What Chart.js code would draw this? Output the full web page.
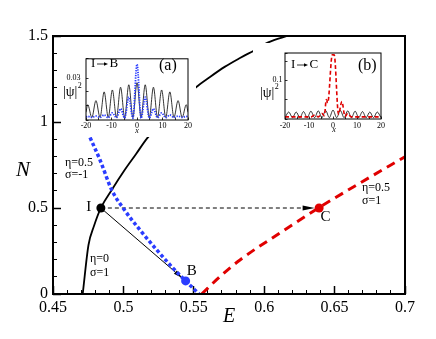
<!DOCTYPE html>
<html>
<head>
<meta charset="utf-8">
<script src="https://cdn.jsdelivr.net/npm/chart.js@4.4.1/dist/chart.umd.min.js"></script>
<style>
  body { margin: 0; background: #fff; }
  #wrap { position: relative; width: 436px; height: 339px; }
  canvas { position: absolute; }
  #mainCanvas { left: 0; top: 0; }
  #insetA { left: 62px; top: 46px; background: #fff; }
  #insetB { left: 253px; top: 43px; background: #fff; }
</style>
</head>
<body>
<div id="wrap">
  <canvas id="mainCanvas" width="436" height="339"></canvas>
  <canvas id="insetA" width="134" height="91"></canvas>
  <canvas id="insetB" width="137" height="92"></canvas>
</div>
<script>
const SERIF = "'Liberation Serif', 'Times New Roman', serif";

// branche eta=0, sigma=1 (trait noir)
const blackE = [0.4711, 0.4752, 0.4791, 0.4841, 0.4917, 0.5004, 0.5090, 0.5168, 0.5345, 0.5516, 0.5615, 0.5722, 0.5828, 0.5935, 0.6029, 0.6162, 0.6254];
const blackN = [0, 0.285, 0.395, 0.502, 0.605, 0.715, 0.814, 0.905, 1.058, 1.202, 1.262, 1.322, 1.372, 1.419, 1.463, 1.500, 1.523];

// branche eta=0.5, sigma=-1 (pointillés bleus)
const blueE = [0.4763, 0.4834, 0.4917, 0.4999, 0.5118, 0.5237, 0.5354, 0.5442, 0.5537];
const blueN = [0.910, 0.779, 0.605, 0.498, 0.372, 0.256, 0.149, 0.076, 0];

// branche eta=0.5, sigma=1 (tirets rouges)
const redE = [0.5556, 0.5686, 0.5828, 0.6112, 0.6389, 0.6680, 0.7000];
const redN = [0, 0.101, 0.198, 0.355, 0.502, 0.645, 0.798];

// points I, B, C
const pointE = [0.484, 0.5442, 0.639];
const pointN = [0.5, 0.076, 0.5];
const pointLabels = ["I", "B", "C"];

// graduations principales
const xTickValues = [0.45, 0.5, 0.55, 0.6, 0.65, 0.7];
const yTickValues = [0, 0.5, 1, 1.5];

// encart (a) : I -> B
const insetAX = [-20, -19.32, -17.71, -16.1, -14.49, -12.88, -11.27, -9.66, -8.05, -6.44, -4.83, -3.22, -1.61, 0, 1.61, 3.22, 4.83, 6.44, 8.05, 9.66, 11.27, 12.88, 14.49, 16.1, 17.71, 19.32, 20];
const insetABlack = [0.005, 0.0105, 0.0012, 0.0135, 0.0012, 0.0199, 0.0012, 0.0213, 0.0012, 0.0233, 0.0012, 0.0251, 0.0012, 0.0266, 0.0012, 0.0251, 0.0012, 0.0233, 0.0012, 0.0213, 0.0012, 0.0199, 0.0012, 0.0135, 0.0012, 0.0105, 0.005];
const insetABlue = [0.0015, 0.002, 0.0012, 0.0022, 0.0012, 0.003, 0.001, 0.0045, 0.001, 0.0075, 0.0008, 0.0161, 0.0006, 0.0401, 0.0006, 0.0161, 0.0008, 0.0075, 0.001, 0.0045, 0.001, 0.003, 0.0012, 0.0022, 0.0012, 0.002, 0.0015];
const insetAYLabels = [0, 0.03];

// encart (b) : I -> C
const insetBX = [-20, -18.42, -16.88, -15.35, -13.81, -12.28, -10.74, -9.21, -7.67, -6.14, -4.6, -3.07, -1.53, 0, 1.53, 3.07, 4.6, 6.14, 7.67, 9.21, 10.74, 12.28, 13.81, 15.35, 16.88, 18.42, 20];
const insetBBlack = [0.001, 0.016, 0.001, 0.016, 0.001, 0.017, 0.001, 0.018, 0.001, 0.019, 0.001, 0.02, 0.001, 0.021, 0.001, 0.02, 0.001, 0.019, 0.001, 0.018, 0.001, 0.017, 0.001, 0.016, 0.001, 0.016, 0.001];
const insetBRedX = [-20, -9, -7.6, -6.1, -4.6, -3.6, -2.8, -2.2, -0.3, 0.5, 2.3, 3.7, 5.0, 6.1, 7.6, 9, 20];
const insetBRed = [0.003, 0.003, 0.008, 0.003, 0.012, 0.006, 0.049, 0.04, 0.168, 0.168, 0.01, 0.044, 0.004, 0.012, 0.003, 0.003, 0.003];
const insetBYLabels = [0, 0.1];

const toXY = (xs, ys) => xs.map((v, i) => ({ x: v, y: ys[i] }));
const font = (size, italic) => (italic ? "italic " : "") + size + "px " + SERIF;

function text(ctx, s, x, y, size, align, italic) {
    ctx.font = font(size, italic);
    ctx.textAlign = align || "left";
    ctx.textBaseline = "middle";
    ctx.fillText(s, x, y);
}

// flèche de p0 vers p1, arrêtée à "gap" px du point visé
function arrow(ctx, p0, p1, dash, gap, len, half) {
    const dx = p1[0] - p0[0], dy = p1[1] - p0[1];
    const d = Math.hypot(dx, dy), ux = dx / d, uy = dy / d;
    const tx = p1[0] - gap * ux, ty = p1[1] - gap * uy;
    const bx = tx - len * ux, by = ty - len * uy;
    ctx.setLineDash(dash);
    ctx.beginPath();
    ctx.moveTo(p0[0], p0[1]);
    ctx.lineTo(bx, by);
    ctx.stroke();
    ctx.setLineDash([]);
    ctx.beginPath();
    ctx.moveTo(tx, ty);
    ctx.lineTo(bx - half * uy, by + half * ux);
    ctx.lineTo(bx + half * uy, by - half * ux);
    ctx.closePath();
    ctx.fill();
}

function psiLabel(ctx, x, y) {
    text(ctx, "|\u03c8|", x, y, 14, "left");
    const w = ctx.measureText("|\u03c8|").width;
    text(ctx, "2", x + w + 0.5, y - 6, 8, "left");
}

const mainDecor = {
    id: "mainDecor",
    beforeDatasetsDraw(chart) {
        const { ctx, scales: { x, y } } = chart;
        const P = pointE.map((e, i) => [x.getPixelForValue(e), y.getPixelForValue(pointN[i])]);
        ctx.save();
        ctx.strokeStyle = "#000";
        ctx.fillStyle = "#000";
        ctx.lineWidth = 1;
        arrow(ctx, P[0], P[2], [4, 3], 4.5, 12, 2.5);
        arrow(ctx, P[0], P[1], [], 4.5, 9, 2.3);
        ctx.restore();
    },
    afterDraw(chart) {
        const { ctx, chartArea: a } = chart;
        ctx.save();
        ctx.strokeStyle = "#000";
        ctx.lineWidth = 2;
        ctx.strokeRect(a.left, a.top, a.right - a.left, a.bottom - a.top);
        ctx.fillStyle = "#000";
        text(ctx, pointLabels[0], 88.7, 207, 15, "center");
        text(ctx, pointLabels[1], 191.7, 271.3, 15, "center");
        text(ctx, pointLabels[2], 325.5, 217.5, 15, "center");
        text(ctx, "\u03b7=0.5", 65, 163, 12);
        text(ctx, "\u03c3=-1", 65, 175, 12);
        text(ctx, "\u03b7=0", 90, 259, 12);
        text(ctx, "\u03c3=1", 90, 272.5, 12);
        text(ctx, "\u03b7=0.5", 362, 188, 12);
        text(ctx, "\u03c3=1", 362, 201, 12);
        text(ctx, "N", 23, 170, 21, "center", true);
        text(ctx, "E", 229, 317, 20, "center", true);
        ctx.restore();
    }
};

function axis(pos, min, max, values, weight, size, padding, tickLen, fmt) {
    return {
        type: "linear", position: pos, min: min, max: max, weight: weight,
        afterBuildTicks: s => { s.ticks = values.map(v => ({ value: v })); },
        ticks: { autoSkip: false, maxRotation: 0, padding: padding, color: "#000",
                 font: { family: SERIF, size: 16 }, callback: fmt },
        grid: { drawOnChartArea: false, tickLength: tickLen, tickWidth: 1.5, tickColor: "#000" },
        border: { display: false },
        afterFit: s => { if (pos === "bottom") s.height = size; else s.width = size; }
    };
}

function minorAxis(pos, min, max, step, tickLen) {
    return {
        type: "linear", position: pos, min: min, max: max, weight: 0,
        ticks: { display: false, stepSize: step },
        grid: { drawOnChartArea: false, tickLength: tickLen, tickWidth: 1, tickColor: "#000" },
        border: { display: false },
        afterFit: s => { if (pos === "bottom") s.height = 0; else s.width = 0; }
    };
}

new Chart(document.getElementById("mainCanvas"), {
    type: "scatter",
    data: {
        datasets: [
            { data: toXY(pointE, pointN), pointRadius: 4.5, pointHoverRadius: 4.5, pointBorderWidth: 0,
              pointBackgroundColor: ["#000", "#2a3cff", "#e00000"], showLine: false, order: 0 },
            { data: toXY(blackE, blackN), borderColor: "#000", borderWidth: 1.8, pointRadius: 0,
              showLine: true, cubicInterpolationMode: "monotone", order: 3 },
            { data: toXY(blueE, blueN), borderColor: "#2a3cff", borderWidth: 3.5, borderDash: [3.5, 2.5],
              pointRadius: 0, showLine: true, cubicInterpolationMode: "monotone", order: 2 },
            { data: toXY(redE, redN), borderColor: "#e00000", borderWidth: 3, borderDash: [9, 6],
              pointRadius: 0, showLine: true, cubicInterpolationMode: "monotone", order: 1 }
        ]
    },
    options: {
        responsive: false,
        animation: false,
        layout: { padding: { left: 0, right: 31, top: 36, bottom: 0 } },
        plugins: { legend: { display: false }, tooltip: { enabled: false } },
        scales: {
            x: axis("bottom", 0.45, 0.7, xTickValues, 1, 45, 12, -8, v => String(+v.toFixed(2))),
            xm: minorAxis("bottom", 0.45, 0.7, 0.01, -4),
            y: axis("left", 0, 1.5, yTickValues, 1, 53, 13, -8, v => String(+v.toFixed(2))),
            ym: minorAxis("left", 0, 1.5, 0.1, -4)
        }
    },
    plugins: [mainDecor]
});

// encarts
function insetDecor(cfg) {
    return {
        id: "insetDecor",
        afterDraw(chart) {
            const { ctx, chartArea: a } = chart;
            ctx.save();
            ctx.strokeStyle = "#000";
            ctx.lineWidth = 1;
            ctx.strokeRect(a.left, a.top, a.right - a.left, a.bottom - a.top);
            ctx.fillStyle = "#000";
            text(ctx, "I", cfg.ix, cfg.ty, 13, "left");
            ctx.lineWidth = 0.8;
            arrow(ctx, [cfg.ix + 6, cfg.ty], [cfg.ix + 17, cfg.ty], [], 0, 4, 1.8);
            text(ctx, cfg.target, cfg.ix + 18.5, cfg.ty, 13, "left");
            text(ctx, cfg.tag, cfg.tagX, cfg.tagY, 16, "left");
            psiLabel(ctx, cfg.px, cfg.py);
            text(ctx, "x", cfg.xx, cfg.xy, 8, "center", true);
            ctx.restore();
        }
    };
}

function insetScales(ymin, ymax, ystep, ylabels, left, bottomH, xpad, ypad) {
    return {
        x: { type: "linear", min: -20, max: 20,
             ticks: { stepSize: 5, autoSkip: false, maxRotation: 0, padding: xpad, color: "#000",
                      font: { family: SERIF, size: 8 },
                      callback: v => (Math.abs(v % 10) < 1e-6 ? String(v) : "") },
             grid: { drawOnChartArea: false, tickLength: -2.5, tickWidth: 0.8, tickColor: "#000" },
             border: { display: false },
             afterFit: s => { s.height = bottomH; } },
        y: { type: "linear", min: ymin, max: ymax,
             ticks: { stepSize: ystep, autoSkip: false, padding: ypad, color: "#000",
                      font: { family: SERIF, size: 8 },
                      callback: v => (ylabels.some(l => Math.abs(l - v) < 1e-6) ? String(+v.toFixed(3)) : "") },
             grid: { drawOnChartArea: false, tickLength: -2.5, tickWidth: 0.8, tickColor: "#000" },
             border: { display: false },
             afterFit: s => { s.width = left; } }
    };
}

new Chart(document.getElementById("insetA"), {
    type: "scatter",
    data: {
        datasets: [
            { data: toXY(insetAX, insetABlue), borderColor: "#2a3cff", borderWidth: 1.8, borderDash: [1.3, 1.2],
              pointRadius: 0, showLine: true, cubicInterpolationMode: "monotone" },
            { data: toXY(insetAX, insetABlack), borderColor: "#000", borderWidth: 0.8,
              pointRadius: 0, showLine: true, cubicInterpolationMode: "monotone" }
        ]
    },
    options: {
        responsive: false,
        animation: false,
        layout: { padding: { left: 0, right: 7, top: 7, bottom: 0 } },
        plugins: { legend: { display: false }, tooltip: { enabled: false } },
        scales: insetScales(-0.00067, 0.0441, 0.01, insetAYLabels, 24, 17, 4, 8)
    },
    plugins: [insetDecor({ ix: 29, ty: 18, target: "B", tag: "(a)", tagX: 97, tagY: 20,
                           px: 1, py: 46, xx: 75, xy: 85 })]
});

new Chart(document.getElementById("insetB"), {
    type: "scatter",
    data: {
        datasets: [
            { data: toXY(insetBRedX, insetBRed), borderColor: "#e00000", borderWidth: 1.6, borderDash: [4, 2.5],
              pointRadius: 0, showLine: true, cubicInterpolationMode: "monotone" },
            { data: toXY(insetBX, insetBBlack), borderColor: "#000", borderWidth: 0.8,
              pointRadius: 0, showLine: true, cubicInterpolationMode: "monotone" }
        ]
    },
    options: {
        responsive: false,
        animation: false,
        layout: { padding: { left: 0, right: 7, top: 10, bottom: 0 } },
        plugins: { legend: { display: false }, tooltip: { enabled: false } },
        scales: insetScales(-0.00266, 0.1729, 0.05, insetBYLabels, 32, 16, 5, 5)
    },
    plugins: [insetDecor({ ix: 38, ty: 22, target: "C", tag: "(b)", tagX: 105, tagY: 23,
                           px: 7, py: 50, xx: 81, xy: 87 })]
});
</script>
</body>
</html>
